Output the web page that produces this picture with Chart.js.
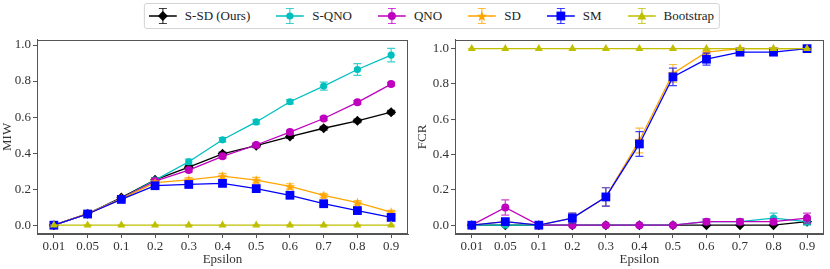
<!DOCTYPE html>
<html><head><meta charset="utf-8">
<script src="https://cdn.jsdelivr.net/npm/chart.js@4/dist/chart.umd.min.js"></script>
<style>
html,body{margin:0;padding:0;background:#fff;}
body{width:830px;height:269px;position:relative;overflow:hidden;font-family:"Liberation Serif","DejaVu Serif",serif;}
#legend{position:absolute;left:432px;top:3px;transform:translateX(-50%);height:26px;border:1px solid #d4d4d4;border-radius:3px;display:flex;align-items:center;padding:0 5px 0 4px;box-sizing:border-box;white-space:nowrap;background:#fff;}
.item{display:flex;align-items:center;margin-right:26px;font-size:13px;color:#222;}
.item:last-child{margin-right:0;}
.item svg{margin-right:8px;}
.wrap{position:absolute;top:30px;width:415px;height:239px;}
</style>
</head><body>
<div id="legend"></div>
<div class="wrap" style="left:0"><canvas id="c1" width="415" height="239"></canvas></div>
<div class="wrap" style="left:415px"><canvas id="c2" width="415" height="239"></canvas></div>
<script>
// ---- data ----
const categories = ["0.01","0.05","0.1","0.2","0.3","0.4","0.5","0.6","0.7","0.8","0.9"];
const seriesNames = ["S-SD (Ours)","S-QNO","QNO","SD","SM","Bootstrap"];
const yTicks = [0, 0.2, 0.4, 0.6, 0.8, 1.0];

// MIW (left panel)
const miwSSD     = [0, 0.063, 0.153, 0.252, 0.322, 0.396, 0.441, 0.492, 0.538, 0.579, 0.627];
const miwSSDErr  = [0.004, 0.007, 0.008, 0.01, 0.01, 0.01, 0.01, 0.01, 0.01, 0.01, 0.01];
const miwSQNO    = [0, 0.064, 0.148, 0.25, 0.352, 0.474, 0.573, 0.685, 0.772, 0.864, 0.944];
const miwSQNOErr = [0.003, 0.007, 0.008, 0.01, 0.015, 0.012, 0.012, 0.012, 0.022, 0.033, 0.037];
const miwQNO     = [0, 0.064, 0.146, 0.245, 0.306, 0.382, 0.445, 0.517, 0.592, 0.682, 0.783];
const miwQNOErr  = [0.003, 0.006, 0.008, 0.008, 0.01, 0.01, 0.01, 0.01, 0.01, 0.01, 0.01];
const miwSD      = [0, 0.064, 0.146, 0.236, 0.252, 0.272, 0.25, 0.215, 0.165, 0.125, 0.072];
const miwSDErr   = [0.003, 0.006, 0.008, 0.01, 0.012, 0.015, 0.015, 0.015, 0.012, 0.012, 0.01];
const miwSM      = [0, 0.062, 0.143, 0.219, 0.226, 0.232, 0.203, 0.166, 0.119, 0.081, 0.043];
const miwSMErr   = [0.003, 0.006, 0.008, 0.01, 0.012, 0.012, 0.012, 0.012, 0.01, 0.01, 0.01];
const miwBoot    = [0, 0, 0, 0, 0, 0, 0, 0, 0, 0, 0];
const miwBootErr = [0, 0, 0, 0, 0, 0, 0, 0, 0, 0, 0];

// FCR (right panel)
const fcrSSD     = [0, 0, 0, 0, 0, 0, 0, 0, 0, 0, 0.02];
const fcrSSDErr  = [0, 0, 0, 0, 0, 0, 0, 0, 0, 0, 0.014];
const fcrSQNO    = [0, 0, 0, 0, 0, 0, 0, 0.02, 0.02, 0.04, 0.02];
const fcrSQNOErr = [0, 0, 0, 0, 0, 0, 0, 0.014, 0.014, 0.028, 0.02];
const fcrQNO     = [0, 0.1, 0, 0, 0, 0, 0, 0.02, 0.02, 0.02, 0.04];
const fcrQNOErr  = [0, 0.043, 0, 0, 0, 0, 0, 0.014, 0.014, 0.014, 0.028];
const fcrSD      = [0, 0.02, 0, 0.04, 0.16, 0.48, 0.86, 0.98, 1, 1, 1];
const fcrSDErr   = [0, 0.014, 0, 0.028, 0.052, 0.07, 0.05, 0.02, 0, 0, 0];
const fcrSM      = [0, 0.02, 0, 0.04, 0.16, 0.46, 0.84, 0.94, 0.98, 0.98, 1];
const fcrSMErr   = [0, 0.014, 0, 0.028, 0.052, 0.07, 0.05, 0.034, 0.014, 0.014, 0];
const fcrBoot    = [1, 1, 1, 1, 1, 1, 1, 1, 1, 1, 1];
const fcrBootErr = [0, 0, 0, 0, 0, 0, 0, 0, 0, 0, 0];

// ---- styles ----
const colors = ["#000000", "#00BFBF", "#BF00BF", "#FFA500", "#0000FF", "#BFBF00"];
const rgba = (hex, a) => { const n = parseInt(hex.slice(1), 16); return `rgba(${n>>16&255},${n>>8&255},${n&255},${a})`; };

function starCanvas(color, r) {
  const s = Math.ceil(r * 2 + 2), c = document.createElement('canvas');
  c.width = s; c.height = s;
  const g = c.getContext('2d'); g.fillStyle = color; g.beginPath();
  for (let k = 0; k < 10; k++) {
    const rad = k % 2 ? r * 0.42 : r, a = -Math.PI / 2 + k * Math.PI / 5;
    const px = s / 2 + rad * Math.cos(a), py = s / 2 + rad * Math.sin(a) + 0.5;
    k ? g.lineTo(px, py) : g.moveTo(px, py);
  }
  g.closePath(); g.fill(); return c;
}
const markers = [
  {style: 'rectRot', r: 5},
  {style: 'circle', r: 3.6},
  {style: 'circle', r: 4},
  {style: starCanvas("#FFA500", 5.5), r: 5},
  {style: 'rect', r: 6.2},
  {style: 'triangle', r: 4.6}
];

// ---- legend (HTML text, SVG glyphs) ----
function glyphSVG(i) {
  const c = colors[i];
  let m = '';
  if (i === 0) m = `<polygon points="14,6 19,11 14,16 9,11" fill="${c}"/>`;
  else if (i === 1) m = `<circle cx="14" cy="11" r="3.6" fill="${c}"/>`;
  else if (i === 2) m = `<circle cx="14" cy="11" r="4" fill="${c}"/>`;
  else if (i === 3) { let p = []; for (let k = 0; k < 10; k++) { const rr = k % 2 ? 2.3 : 5.5, a = -Math.PI/2 + k*Math.PI/5; p.push((14+rr*Math.cos(a)).toFixed(2)+','+(11.5+rr*Math.sin(a)).toFixed(2)); } m = `<polygon points="${p.join(' ')}" fill="${c}"/>`; }
  else if (i === 4) m = `<rect x="9.6" y="6.6" width="8.8" height="8.8" fill="${c}"/>`;
  else m = `<polygon points="14,6.5 18.5,14.5 9.5,14.5" fill="${c}"/>`;
  return `<svg width="28" height="22" viewBox="0 0 28 22"><line x1="0" y1="11" x2="28" y2="11" stroke="${c}" stroke-width="1.3"/>` +
    `<g stroke="${rgba(c,0.75)}" stroke-width="1.2"><line x1="14" y1="3.5" x2="14" y2="18.5"/><line x1="10" y1="3.5" x2="18" y2="3.5"/><line x1="10" y1="18.5" x2="18" y2="18.5"/></g>${m}</svg>`;
}
document.getElementById('legend').innerHTML = seriesNames.map((n, i) =>
  `<div class="item">${glyphSVG(i)}<span>${n}</span></div>`).join('');

// ---- plugins ----
const errorBars = {
  id: 'errorBars',
  beforeDatasetDraw(chart, args) {
    const ds = chart.data.datasets[args.index];
    if (!ds.errors) return;
    const ys = chart.scales.y, ctx = chart.ctx;
    ctx.save();
    ctx.strokeStyle = rgba(ds.borderColor, 0.75);
    ctx.lineWidth = 1.2;
    args.meta.data.forEach((pt, i) => {
      const v = ds.data[i], e = ds.errors[i];
      const y1 = ys.getPixelForValue(v + e), y2 = ys.getPixelForValue(v - e), x = pt.x;
      ctx.beginPath();
      ctx.moveTo(x, y1); ctx.lineTo(x, y2);
      ctx.moveTo(x - 4, y1); ctx.lineTo(x + 4, y1);
      ctx.moveTo(x - 4, y2); ctx.lineTo(x + 4, y2);
      ctx.stroke();
    });
    ctx.restore();
  }
};
const frame = {
  id: 'frame',
  afterDraw(chart) {
    const a = chart.chartArea, ctx = chart.ctx;
    ctx.save(); ctx.strokeStyle = '#555'; ctx.lineWidth = 1;
    ctx.strokeRect(Math.round(a.left) + 0.5, Math.round(a.top) + 0.5, Math.round(a.right - a.left) - 1, Math.round(a.bottom - a.top) - 1);
    ctx.restore();
  }
};

const font = {family: '"Liberation Serif", "DejaVu Serif", serif', size: 13};

function makeChart(id, yTitle, values, errors, yMin, yMax, yWidth, padRight) {
  const datasets = values.map((d, i) => ({
    label: seriesNames[i],
    data: d,
    errors: errors[i],
    borderColor: colors[i],
    backgroundColor: colors[i],
    borderWidth: 1.3,
    pointStyle: markers[i].style,
    pointRadius: markers[i].r,
    pointHoverRadius: markers[i].r,
    pointBorderWidth: 0,
    tension: 0,
    order: 5 - i,
    clip: false
  }));
  return new Chart(document.getElementById(id), {
    type: 'line',
    data: {labels: categories, datasets},
    options: {
      responsive: false, animation: false, devicePixelRatio: 1,
      layout: {padding: {top: 6, right: padRight, left: 0, bottom: 0}},
      plugins: {legend: {display: false}, tooltip: {enabled: false}},
      scales: {
        x: {
          type: 'category', offset: true,
          grid: {display: true, drawOnChartArea: false, drawTicks: true, tickLength: 4, color: '#555', offset: false},
          border: {display: true, color: '#555', width: 1},
          ticks: {font, color: '#333', padding: 1, maxRotation: 0, autoSkip: false},
          title: {display: true, text: 'Epsilon', font, color: '#333', padding: {top: 0, bottom: 2}},
          afterFit(s) { s.height = 35; }
        },
        y: {
          type: 'linear', min: yMin, max: yMax,
          grid: {display: true, drawOnChartArea: false, drawTicks: true, tickLength: 4, color: '#555'},
          border: {display: true, color: '#555', width: 1},
          ticks: {font, color: '#333', padding: 2, callback: v => v.toFixed(1)},
          afterBuildTicks(s) { s.ticks = yTicks.map(v => ({value: v})); },
          title: {display: true, text: yTitle, font, color: '#333', padding: {top: 0, bottom: 0}},
          afterFit(s) { s.width = yWidth; }
        }
      }
    },
    plugins: [errorBars, frame]
  });
}

makeChart('c1', 'MIW',
  [miwSSD, miwSQNO, miwQNO, miwSD, miwSM, miwBoot],
  [miwSSDErr, miwSQNOErr, miwQNOErr, miwSDErr, miwSMErr, miwBootErr],
  -0.049, 1.029, 37, 7);
makeChart('c2', 'FCR',
  [fcrSSD, fcrSQNO, fcrQNO, fcrSD, fcrSM, fcrBoot],
  [fcrSSDErr, fcrSQNOErr, fcrQNOErr, fcrSDErr, fcrSMErr, fcrBootErr],
  -0.05, 1.05, 40, 5);
</script>
</body></html>
